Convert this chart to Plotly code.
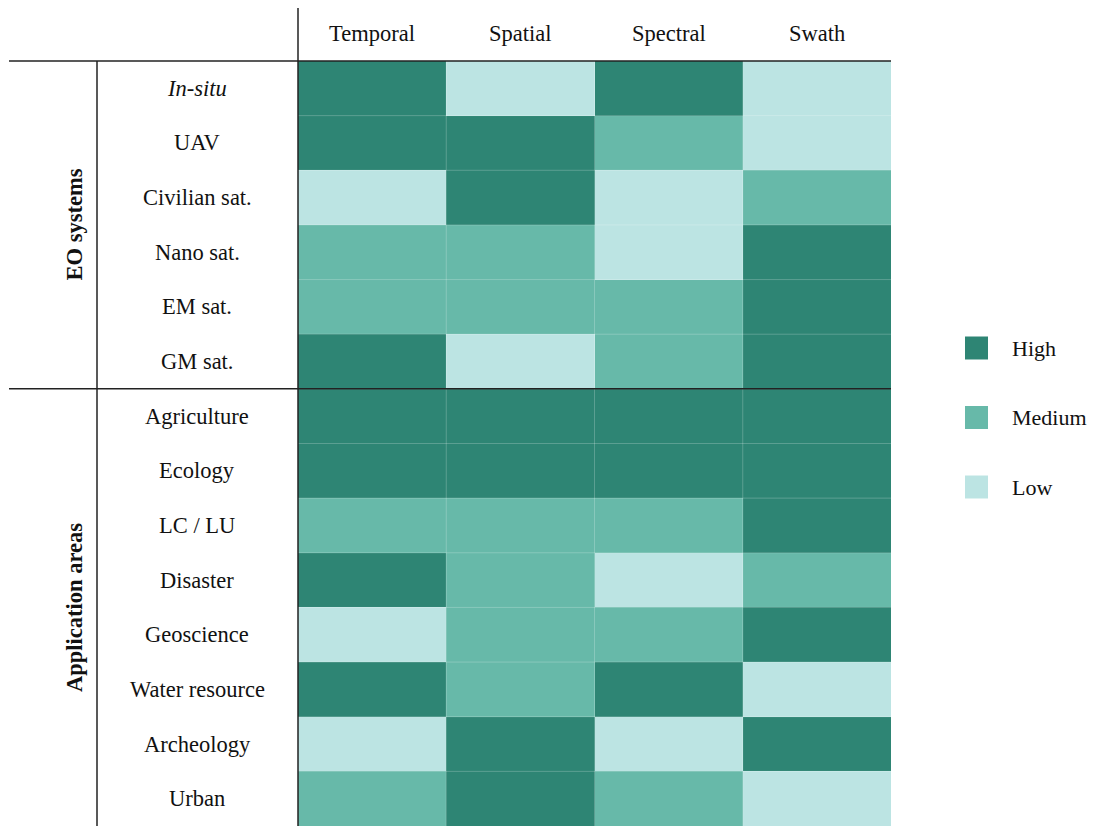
import plotly.graph_objects as go

# --- data ---
columns = ["Temporal", "Spatial", "Spectral", "Swath"]
eo_systems = ["<i>In-situ</i>", "UAV", "Civilian sat.", "Nano sat.", "EM sat.", "GM sat."]
app_areas = ["Agriculture", "Ecology", "LC / LU", "Disaster", "Geoscience",
             "Water resource", "Archeology", "Urban"]
levels = ["High", "Medium", "Low"]   # 3, 2, 1

# resolution requirement per row: Temporal, Spatial, Spectral, Swath
eo_values = [
    [3, 1, 3, 1],
    [3, 3, 2, 1],
    [1, 3, 1, 2],
    [2, 2, 1, 3],
    [2, 2, 2, 3],
    [3, 1, 2, 3],
]
app_values = [
    [3, 3, 3, 3],
    [3, 3, 3, 3],
    [2, 2, 2, 3],
    [3, 2, 1, 2],
    [1, 2, 2, 3],
    [3, 2, 3, 1],
    [1, 3, 1, 3],
    [2, 3, 2, 1],
]

# --- style ---
colors = {"Low": "#bce4e3", "Medium": "#67b9a9", "High": "#2e8574"}
font_family = "Liberation Serif, Times New Roman, serif"
fs = 22.5
off = 8  # page body margin
W, H = 1099 - off, 826 - off
left, right, top, bottom = 298 - off, 208, 61 - off, 0
plot_w = W - left - right
plot_h = H - top - bottom

rows = eo_systems + app_areas
z = eo_values + app_values
row_ids = list(range(len(rows)))

fig = go.Figure()
fig.add_trace(go.Heatmap(
    z=z, x=columns, y=row_ids,
    colorscale=[[0, colors["Low"]], [0.5, colors["Medium"]], [1, colors["High"]]],
    zmin=1, zmax=3, showscale=False, hoverinfo="skip",
))


# page pixel -> paper coordinates
def px_x(p):
    return (p - off - left) / plot_w


def px_y(p):
    return 1 - (p - off - top) / plot_h


txt_font = dict(size=fs, color="#111", family=font_family)
annotations = []
# row labels, centred in the label column
for i, r in enumerate(rows):
    annotations.append(dict(x=px_x(197), y=i, xref="paper", yref="y", text=r,
                            showarrow=False, xanchor="center", yanchor="middle", font=txt_font))
# column headers
for c in columns:
    annotations.append(dict(x=c, y=px_y(34), xref="x", yref="paper", text=c,
                            showarrow=False, xanchor="center", yanchor="middle", font=txt_font))
# group labels
n_eo = len(eo_systems)
annotations.append(dict(x=px_x(60), y=(n_eo - 1) / 2, xref="paper", yref="y",
                        text="<b>EO systems</b>", textangle=-90, showarrow=False, font=txt_font))
annotations.append(dict(x=px_x(60), y=n_eo + (len(app_areas) - 1) / 2, xref="paper", yref="y",
                        text="<b>Application areas</b>", textangle=-90, showarrow=False,
                        font=txt_font))

shapes = []
# legend: squares + labels
leg_y0, leg_step = 348, 69.5
for k, lvl in enumerate(levels):
    cy = leg_y0 + k * leg_step
    shapes.append(dict(type="rect", xref="paper", yref="paper",
                       x0=px_x(965), x1=px_x(988), y0=px_y(cy - 11.5), y1=px_y(cy + 11.5),
                       fillcolor=colors[lvl], line=dict(width=0)))
    annotations.append(dict(x=px_x(1010), y=px_y(cy), xref="paper", yref="paper", text=lvl,
                            showarrow=False, xanchor="left", yanchor="middle",
                            font=dict(size=22, color="#111", family=font_family)))

# faint separators between cells
for i in range(1, len(rows)):
    shapes.append(dict(type="line", xref="paper", yref="y", x0=0, x1=1, y0=i - 0.5, y1=i - 0.5,
                       line=dict(color="rgba(255,255,255,0.22)", width=1), layer="above"))
for j in range(1, len(columns)):
    shapes.append(dict(type="line", xref="x", yref="paper", x0=j - 0.5, x1=j - 0.5, y0=0, y1=1,
                       line=dict(color="rgba(255,255,255,0.22)", width=1), layer="above"))
# table rules
rule = dict(color="#222", width=1.5)
shapes += [
    dict(type="line", xref="paper", yref="paper", x0=px_x(9), x1=1, y0=1, y1=1, line=rule),
    dict(type="line", xref="paper", yref="paper", x0=0, x1=0, y0=0, y1=px_y(8), line=rule),
    dict(type="line", xref="paper", yref="paper", x0=px_x(97), x1=px_x(97), y0=0, y1=1, line=rule),
    dict(type="line", xref="paper", yref="y", x0=px_x(9), x1=1, y0=n_eo - 0.5, y1=n_eo - 0.5,
         line=rule, layer="above"),
]

fig.update_layout(
    width=W, height=H,
    margin=dict(l=left, r=right, t=top, b=bottom),
    paper_bgcolor="white", plot_bgcolor="white",
    font=dict(family=font_family, size=fs, color="#111"),
    xaxis=dict(showticklabels=False, showgrid=False, zeroline=False, fixedrange=True),
    yaxis=dict(showticklabels=False, showgrid=False, zeroline=False, autorange="reversed",
               fixedrange=True),
    annotations=annotations,
    shapes=shapes,
    showlegend=False,
)

fig.write_html("out.html")
